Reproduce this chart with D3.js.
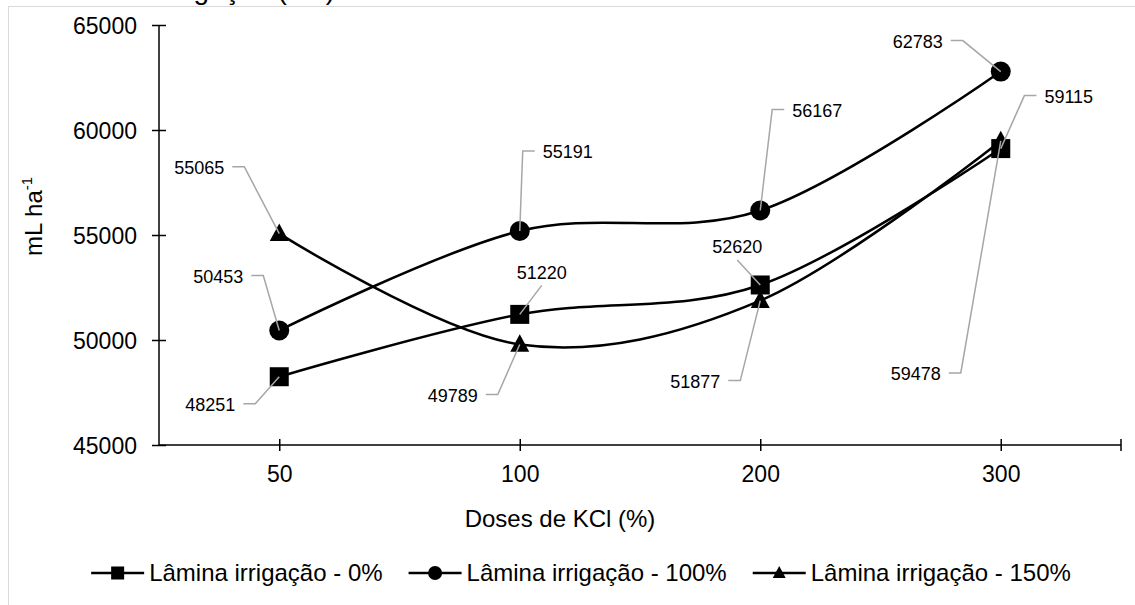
<!DOCTYPE html>
<html>
<head>
<meta charset="utf-8">
<script src="https://cdn.jsdelivr.net/npm/d3@7"></script>
<style>
  html, body { margin: 0; padding: 0; background: #fff; }
  svg { display: block; font-family: "Liberation Sans", Arial, sans-serif; }
</style>
</head>
<body>
<svg id="chart" width="1135" height="605"></svg>
<script>
// ---- data ----
const categories = ["50", "100", "200", "300"];
const lamina0 = [48251, 51220, 52620, 59115];
const lamina100 = [50453, 55191, 56167, 62783];
const lamina150 = [55065, 49789, 51877, 59478];
const seriesNames = ["Lâmina irrigação - 0%", "Lâmina irrigação - 100%", "Lâmina irrigação - 150%"];
const yTickValues = [45000, 50000, 55000, 60000, 65000];
const xTitle = "Doses de KCl (%)";
const yTitle = "mL ha";
const yTitleSup = "-1";
const topTitle = "Lâmina de irrigação (mL)";

// ---- layout (label placement offsets, not data) ----
// [dx, dy, mode] : text centre relative to point; mode R = leader from right side, L = from left side, B = from bottom
const labelLayout = [
  [[-69, 28, "R"], [22, -42, "B"], [-23, -38, "B"], [68, -52, "L"]],
  [[-61, -54, "R"], [48, -79, "L"], [57, -100, "L"], [-83, -30, "R"]],
  [[-80, -66, "R"], [-67, 51, "R"], [-65, 81, "R"], [-85, 233, "R"]]
];

(function () {
const svg = d3.select("#chart");
const W = 1135, H = 605;
svg.append("rect").attr("width", W).attr("height", H).attr("fill", "#fff");

// clipped title above the frame
svg.append("text").attr("x", 335).attr("y", -1).attr("text-anchor", "end")
  .attr("font-size", 28).attr("fill", "#000").text(topTitle);

// chart frame
svg.append("rect").attr("x", 8.5).attr("y", 6.5).attr("width", 2000).attr("height", 2000)
  .attr("fill", "#fff").attr("stroke", "#d9d9d9").attr("stroke-width", 1);

const pLeft = 159, pRight = 1121, pTop = 25, pBottom = 445;
const x = d3.scalePoint().domain(categories).range([pLeft, pRight]).padding(0.5);
const y = d3.scaleLinear().domain([45000, 65000]).range([pBottom, pTop]);

// Y axis
const yAxis = svg.append("g").attr("transform", `translate(${pLeft},0)`)
  .call(d3.axisLeft(y).tickValues(yTickValues).tickSize(7).tickPadding(15).tickFormat(d3.format("d")));
yAxis.select(".domain").attr("stroke", "#000").attr("stroke-width", 1.5).attr("d", `M0,${pTop}V${pBottom}`);
yAxis.selectAll(".tick line").attr("x1", -7).attr("x2", 7).attr("stroke", "#000").attr("stroke-width", 1.5);
yAxis.selectAll(".tick text").attr("font-size", 23).attr("fill", "#000")
  .attr("font-family", "Liberation Sans, Arial, sans-serif").attr("x", -22).attr("dy", "0.35em");

// X axis
const xAxis = svg.append("g").attr("transform", `translate(0,${pBottom})`)
  .call(d3.axisBottom(x).tickSize(6).tickPadding(14));
xAxis.select(".domain").attr("stroke", "#000").attr("stroke-width", 1.5).attr("d", `M${pLeft},0H${pRight}`);
xAxis.selectAll(".tick line").attr("y1", -6).attr("y2", 6).attr("stroke", "#000").attr("stroke-width", 1.5);
xAxis.selectAll(".tick text").attr("font-size", 23).attr("fill", "#000")
  .attr("font-family", "Liberation Sans, Arial, sans-serif").attr("y", 37).attr("dy", 0);
xAxis.append("line").attr("x1", pRight).attr("x2", pRight).attr("y1", -6).attr("y2", 6)
  .attr("stroke", "#000").attr("stroke-width", 1.5);

// Axis titles
svg.append("text").attr("x", 560).attr("y", 527).attr("text-anchor", "middle")
  .attr("font-size", 24).attr("fill", "#000").text(xTitle);
const yt = svg.append("text").attr("transform", "translate(42,256) rotate(-90)")
  .attr("font-size", 24).attr("fill", "#000");
yt.append("tspan").text(yTitle);
yt.append("tspan").attr("font-size", 15).attr("dy", -10).text(yTitleSup);

// Series
const allSeries = [lamina0, lamina100, lamina150];
const shapes = ["square", "circle", "triangle"];
const line = d3.line().x((d, i) => x(categories[i])).y(d => y(d)).curve(d3.curveCatmullRom.alpha(0));

function drawMarker(g, shape, cx, cy, s) {
  if (shape === "square") {
    g.append("rect").attr("x", cx - s / 2).attr("y", cy - s / 2).attr("width", s).attr("height", s).attr("fill", "#000");
  } else if (shape === "circle") {
    g.append("circle").attr("cx", cx).attr("cy", cy).attr("r", s / 2 + 0.5).attr("fill", "#000");
  } else {
    const h = s * 0.92;
    g.append("path").attr("d", `M${cx},${cy - h * 0.58}L${cx + s / 2},${cy + h * 0.42}L${cx - s / 2},${cy + h * 0.42}Z`).attr("fill", "#000");
  }
}

const plot = svg.append("g");
allSeries.forEach((vals) => {
  plot.append("path").datum(vals).attr("d", line).attr("fill", "none")
    .attr("stroke", "#000").attr("stroke-width", 2.5);
});
allSeries.forEach((vals, si) => {
  vals.forEach((v, i) => drawMarker(plot, shapes[si], x(categories[i]), y(v), 19));
});

// Data labels with leader lines
const labels = svg.append("g");
allSeries.forEach((vals, si) => {
  vals.forEach((v, i) => {
    const px = x(categories[i]), py = y(v);
    const [dx, dy, mode] = labelLayout[si][i];
    const lx = px + dx, ly = py + dy;
    const t = labels.append("text").attr("x", lx).attr("y", ly).attr("dy", "0.35em")
      .attr("text-anchor", "middle").attr("font-size", 18).attr("fill", "#000").text(v);
    const w = t.node().getComputedTextLength();
    let pts;
    if (mode === "R") {
      const sx = lx + w / 2 + 8;
      pts = [[sx, ly - 1], [sx + 12, ly - 1], [px, py]];
    } else if (mode === "L") {
      const sx = lx - w / 2 - 8;
      pts = [[sx, ly - 1], [sx - 12, ly - 1], [px, py]];
    } else {
      pts = [[lx, ly + 13], [px, py]];
    }
    labels.append("path").attr("d", d3.line()(pts)).attr("fill", "none")
      .attr("stroke", "#a6a6a6").attr("stroke-width", 1.5);
  });
});

// Legend
const legend = svg.append("g");
const legY = 573;
const items = [];
seriesNames.forEach((name, si) => {
  const g = legend.append("g");
  g.append("line").attr("x1", 0).attr("x2", 53).attr("y1", legY).attr("y2", legY)
    .attr("stroke", "#000").attr("stroke-width", 2.5);
  drawMarker(g, shapes[si], 26.5, legY, 13);
  const t = g.append("text").attr("x", 58).attr("y", legY).attr("dy", "0.35em")
    .attr("font-size", 24).attr("fill", "#000").text(name);
  const w = 58 + t.node().getComputedTextLength();
  items.push([g, w]);
});
const gap = 26;
const total = items.reduce((a, b) => a + b[1], 0) + gap * (items.length - 1);
let start = 581 - total / 2;
items.forEach(([g, w]) => { g.attr("transform", `translate(${start},0)`); start += w + gap; });
})();
</script>
</body>
</html>
